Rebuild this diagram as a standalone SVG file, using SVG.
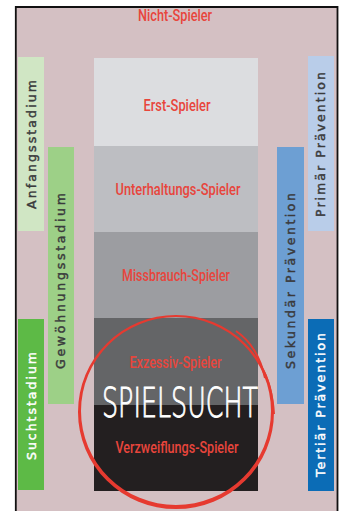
<svg xmlns="http://www.w3.org/2000/svg" width="342" height="511" viewBox="0 0 342 511">
<style>
.lbl{font-family:"Roboto","Liberation Sans",sans-serif;font-weight:500;font-size:16px;fill:#e8453c;text-anchor:middle}
.vt{font-family:"DejaVu Sans","Liberation Sans",sans-serif;font-weight:normal;font-size:12.5px;text-anchor:middle;stroke-width:0.45px}
.dk{fill:#3a3a3c;stroke:#3a3a3c}
.wt{fill:#ffffff;stroke:#ffffff}
</style>
<rect x="0" y="0" width="342" height="511" fill="#ffffff"/>
<rect x="15" y="7" width="323" height="504" fill="#d4c0c3"/>
<path d="M15.8 511 V7 H337.5 V511" fill="none" stroke="#111" stroke-width="1.8"/>

<g id="nicht-spieler"><text class="lbl" x="175" y="21" textLength="74" lengthAdjust="spacingAndGlyphs">Nicht-Spieler</text></g>

<g id="erst-spieler"><rect x="94" y="58" width="164" height="88" fill="#dcdde0"/><text class="lbl" x="177" y="111" textLength="67" lengthAdjust="spacingAndGlyphs">Erst-Spieler</text></g>
<g id="unterhaltungs-spieler"><rect x="94" y="146" width="164" height="86" fill="#bdbec2"/><text class="lbl" x="178" y="195" textLength="125" lengthAdjust="spacingAndGlyphs">Unterhaltungs-Spieler</text></g>
<g id="missbrauch-spieler"><rect x="94" y="232" width="164" height="86" fill="#9c9da1"/><text class="lbl" x="176" y="281" textLength="108" lengthAdjust="spacingAndGlyphs">Missbrauch-Spieler</text></g>
<g id="exzessiv-spieler"><rect x="94" y="318" width="164" height="87" fill="#646567"/><text class="lbl" x="175.5" y="368" textLength="92" lengthAdjust="spacingAndGlyphs">Exzessiv-Spieler</text></g>
<g id="verzweiflungs-spieler"><rect x="94" y="405" width="164" height="86" fill="#231f20"/><text class="lbl" x="177" y="453" textLength="123" lengthAdjust="spacingAndGlyphs">Verzweiflungs-Spieler</text></g>

<g id="anfangsstadium"><rect x="18" y="57" width="26" height="174" fill="#d0e6c4"/><text class="vt dk" transform="translate(36 144.5) rotate(-90)" textLength="129" lengthAdjust="spacing">Anfangsstadium</text></g>
<g id="gewoehnungsstadium"><rect x="48" y="147" width="26" height="257" fill="#9dd087"/><text class="vt dk" transform="translate(64.5 281) rotate(-90)" textLength="176" lengthAdjust="spacing">Gewöhnungsstadium</text></g>
<g id="suchtstadium"><rect x="18" y="319" width="26" height="171" fill="#5dba46"/><text class="vt wt" transform="translate(36 406) rotate(-90)" textLength="108" lengthAdjust="spacing">Suchtstadium</text></g>

<g id="primaer"><rect x="308" y="56" width="26" height="175" fill="#b9cde9"/><text class="vt dk" transform="translate(325 144.5) rotate(-90)" textLength="145" lengthAdjust="spacing">Primär Prävention</text></g>
<g id="sekundaer"><rect x="277" y="147" width="27" height="257" fill="#6d9fd3"/><text class="vt dk" transform="translate(294.5 281) rotate(-90)" textLength="176" lengthAdjust="spacing">Sekundär Prävention</text></g>
<g id="tertiaer"><rect x="308" y="319" width="26" height="172" fill="#0b6cb6"/><text class="vt wt" transform="translate(325 405) rotate(-90)" textLength="144" lengthAdjust="spacing">Tertiär Prävention</text></g>

<g id="spielsucht">
<path fill="#e63a30" fill-rule="evenodd" d="M78 412 A98 97 0 1 0 274 412 A98 97 0 1 0 78 412 Z M81 411 A95 94 0 1 0 271 411 A95 94 0 1 0 81 411 Z"/>
<path d="M236 331 Q258 346 265 378 M261 366 Q272 384 274 414" fill="none" stroke="#e63a30" stroke-width="2"/>
<text x="180" y="417" font-family="DejaVu Sans, sans-serif" font-weight="200" font-size="40" fill="#ffffff" stroke="#ffffff" stroke-width="0.9" text-anchor="middle" textLength="156" lengthAdjust="spacingAndGlyphs">SPIELSUCHT</text>
</g>
</svg>
